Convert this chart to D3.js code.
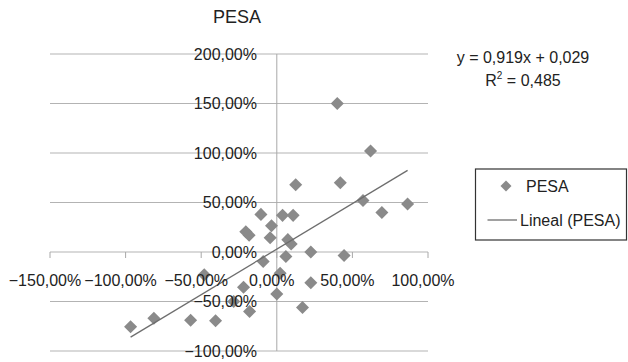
<!DOCTYPE html>
<html lang="es">
  <head>
    <style>
      body { margin: 0; background: #fff; }
      text { font-family: "Liberation Sans", Arial, sans-serif; fill: #222; }
      .grid line { stroke: #b3b3b3; stroke-width: 1; }
      .pt { fill: #8a8a8a; }
    </style>
    <script src="https://d3js.org/d3.v7.min.js"></script>
  </head>
  <body>
    <svg width="628" height="362"></svg>
    <script>
      // PESA values, fractions (x, y)
      const xValues = [0.40, 0.62, 0.42, 0.57, 0.695, 0.865, 0.225, 0.445, 0.225, 0.17,
        0.125, -0.105, 0.038, 0.108, -0.035, -0.205, -0.183, -0.044, 0.073, 0.095,
        -0.09, 0.06, 0.022, 0.0, -0.22, -0.18, -0.285, -0.48, -0.967, -0.813, -0.57, -0.405];
      const yValues = [1.50, 1.02, 0.70, 0.52, 0.40, 0.485, 0.0, -0.035, -0.31, -0.56,
        0.68, 0.38, 0.37, 0.37, 0.265, 0.205, 0.17, 0.145, 0.125, 0.08,
        -0.095, -0.045, -0.215, -0.425, -0.355, -0.60, -0.50, -0.23, -0.755, -0.67, -0.69, -0.695];
      const xTicks = [-1.5, -1.0, -0.5, 0, 0.5, 1.0];
      const yTicks = [-1.0, -0.5, 0, 0.5, 1.0, 1.5, 2.0];
      const slope = 0.919, intercept = 0.029, r2 = 0.485;

      const svg = d3.select("svg");
      const x = d3.scaleLinear().domain([-1.5, 1.0]).range([50, 428]);
      const y = d3.scaleLinear().domain([-1.0, 2.0]).range([351, 54]);
      const fmt = (v) => (v < 0 ? "\u2212" : "") + Math.abs(v * 100).toFixed(2).replace(".", ",") + "%";

      // horizontal gridlines
      svg.append("g").attr("class", "grid")
        .selectAll("line").data(yTicks).enter().append("line")
        .attr("x1", x(-1.5)).attr("x2", x(1.0))
        .attr("y1", (d) => y(d)).attr("y2", (d) => y(d));

      // vertical axis line
      svg.append("line")
        .attr("x1", x(0)).attr("x2", x(0))
        .attr("y1", y(2.0)).attr("y2", y(-1.0))
        .attr("stroke", "#a8a8a8");

      // x axis tick marks
      svg.append("g").selectAll("line").data(xTicks).enter().append("line")
        .attr("x1", (d) => x(d)).attr("x2", (d) => x(d))
        .attr("y1", y(0)).attr("y2", y(0) + 6)
        .attr("stroke", "#a8a8a8");

      // points
      const diamond = d3.symbol().type(d3.symbolSquare).size(85);
      svg.append("g").selectAll("path").data(xValues).enter().append("path")
        .attr("class", "pt")
        .attr("d", diamond)
        .attr("transform", (d, i) => "translate(" + x(d) + "," + y(yValues[i]) + ") rotate(45)");

      // trend line
      const xMin = d3.min(xValues), xMax = d3.max(xValues);
      svg.append("line")
        .attr("x1", x(xMin)).attr("y1", y(slope * xMin + intercept))
        .attr("x2", x(xMax)).attr("y2", y(slope * xMax + intercept))
        .attr("stroke", "#6e6e6e").attr("stroke-width", 1.3);

      // y labels
      svg.append("g").selectAll("text").data(yTicks).enter().append("text")
        .attr("x", 257).attr("y", (d) => y(d))
        .attr("dy", "0.36em")
        .attr("text-anchor", "end")
        .style("font-size", "16px")
        .text(fmt);

      // x labels
      svg.append("g").selectAll("text").data(xTicks).enter().append("text")
        .attr("x", (d) => x(d) - 5).attr("y", 286)
        .attr("text-anchor", "middle")
        .style("font-size", "16px")
        .text(fmt);

      // title
      svg.append("text")
        .attr("x", 237).attr("y", 22.5)
        .attr("text-anchor", "middle")
        .style("font-size", "18px")
        .text("PESA");

      // equation
      const eq = (v) => v.toFixed(3).replace(".", ",");
      svg.append("text")
        .attr("x", 523).attr("y", 62.5)
        .attr("text-anchor", "middle")
        .style("font-size", "16px")
        .text("y = " + eq(slope) + "x + " + eq(intercept));
      const rt = svg.append("text")
        .attr("x", 523).attr("y", 86)
        .attr("text-anchor", "middle")
        .style("font-size", "16px");
      rt.append("tspan").text("R");
      rt.append("tspan").attr("dy", -7).style("font-size", "10px").text("2");
      rt.append("tspan").attr("dy", 7).text(" = " + eq(r2));

      // legend
      const lg = svg.append("g");
      lg.append("rect")
        .attr("x", 475.5).attr("y", 169).attr("width", 151).attr("height", 71)
        .attr("fill", "#fff").attr("stroke", "#333").attr("stroke-width", 1.2);
      lg.append("path")
        .attr("class", "pt")
        .attr("d", d3.symbol().type(d3.symbolSquare).size(60))
        .attr("transform", "translate(506,186) rotate(45)");
      lg.append("text").attr("x", 526).attr("y", 191.5)
        .style("font-size", "16px").text("PESA");
      lg.append("line")
        .attr("x1", 487.5).attr("x2", 517).attr("y1", 220).attr("y2", 220)
        .attr("stroke", "#6e6e6e").attr("stroke-width", 1.3);
      lg.append("text").attr("x", 520).attr("y", 225.5)
        .style("font-size", "16px").text("Lineal (PESA)");
    </script>
  </body>
</html>
